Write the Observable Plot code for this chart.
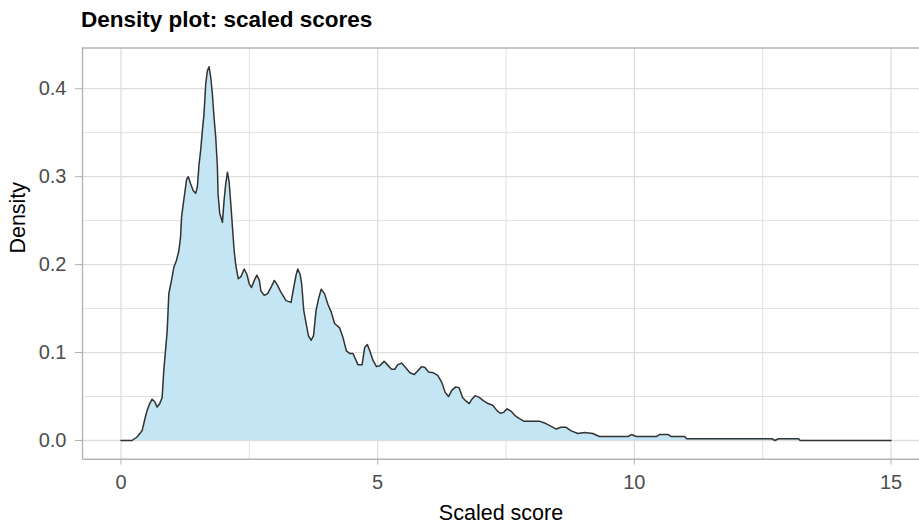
<!DOCTYPE html>
<html>
<head>
<meta charset="utf-8">
<script src="https://cdn.jsdelivr.net/npm/d3@7"></script>
<script src="https://cdn.jsdelivr.net/npm/@observablehq/plot@0.6"></script>
<style>
  html, body { margin: 0; padding: 0; background: white; }
  #wrap { position: relative; width: 919px; height: 524px; overflow: hidden; background: white; }
  #title { position: absolute; left: 81px; top: 9px; font: bold 22.5px "Liberation Sans", Arial, sans-serif; line-height: 22px; color: #000; white-space: nowrap; }
  #chart { position: absolute; left: 0; top: 40px; }
</style>
</head>
<body>
<div id="wrap">
  <div id="title"></div>
  <div id="chart"></div>
</div>
<script>
const titleText = "Density plot: scaled scores";
const xLabel = "Scaled score";
const yLabel = "Density";

// Density curve
const scoreX = [
  0, 0.215, 0.313, 0.410, 0.476, 0.508, 0.560, 0.606, 0.658, 0.704, 0.756, 0.802, 0.834, 0.867, 0.900,
  0.932, 0.984, 1.030, 1.082, 1.128, 1.160, 1.180, 1.213, 1.239, 1.278, 1.310, 1.356, 1.408, 1.454, 1.487,
  1.519, 1.552, 1.585, 1.617, 1.650, 1.682, 1.715, 1.748, 1.780, 1.813, 1.845, 1.878, 1.891, 1.924, 1.976,
  2.008, 2.041, 2.074, 2.106, 2.139, 2.172, 2.204, 2.237, 2.283, 2.335, 2.400, 2.452, 2.498, 2.543, 2.596,
  2.648, 2.694, 2.726, 2.791, 2.856, 2.922, 2.987, 3.052, 3.112, 3.215, 3.313, 3.365, 3.410, 3.444, 3.489,
  3.520, 3.560, 3.607, 3.652, 3.705, 3.750, 3.800, 3.848, 3.900, 3.965, 4.030, 4.096, 4.161, 4.259, 4.325,
  4.390, 4.455, 4.520, 4.618, 4.696, 4.748, 4.800, 4.846, 4.911, 4.977, 5.040, 5.127, 5.192, 5.270, 5.335,
  5.387, 5.466, 5.544, 5.628, 5.714, 5.792, 5.857, 5.922, 5.988, 6.086, 6.170, 6.249, 6.313, 6.380, 6.444,
  6.522, 6.587, 6.654, 6.718, 6.783, 6.836, 6.900, 6.979, 7.065, 7.149, 7.240, 7.325, 7.390, 7.456, 7.520,
  7.605, 7.683, 7.761, 7.847, 8.150, 8.250, 8.380, 8.480, 8.570, 8.670, 8.770, 8.900, 9.030, 9.190, 9.320,
  9.880, 9.940, 10.040, 10.430, 10.490, 10.660, 10.720, 10.980, 11.020, 12.680, 12.740, 12.810, 13.200, 13.230, 15
];
const densityY = [
  0, 0, 0.004, 0.011, 0.027, 0.034, 0.042, 0.047, 0.044, 0.038, 0.042, 0.049, 0.080, 0.102, 0.125,
  0.167, 0.182, 0.197, 0.205, 0.216, 0.231, 0.254, 0.269, 0.280, 0.297, 0.300, 0.292, 0.284, 0.281, 0.288,
  0.313, 0.330, 0.352, 0.371, 0.405, 0.420, 0.425, 0.413, 0.394, 0.367, 0.345, 0.311, 0.280, 0.258, 0.248,
  0.273, 0.292, 0.305, 0.294, 0.269, 0.242, 0.216, 0.199, 0.184, 0.186, 0.195, 0.189, 0.178, 0.174, 0.182,
  0.188, 0.182, 0.170, 0.165, 0.167, 0.174, 0.182, 0.176, 0.169, 0.159, 0.157, 0.174, 0.188, 0.195, 0.189,
  0.178, 0.148, 0.133, 0.119, 0.114, 0.119, 0.148, 0.161, 0.172, 0.167, 0.155, 0.146, 0.133, 0.128, 0.117,
  0.102, 0.099, 0.099, 0.086, 0.086, 0.106, 0.109, 0.102, 0.091, 0.084, 0.085, 0.090, 0.086, 0.081, 0.081,
  0.086, 0.088, 0.083, 0.077, 0.075, 0.080, 0.084, 0.083, 0.078, 0.077, 0.074, 0.066, 0.055, 0.050, 0.057,
  0.061, 0.060, 0.049, 0.045, 0.042, 0.047, 0.051, 0.049, 0.045, 0.042, 0.040, 0.034, 0.031, 0.032, 0.036,
  0.033, 0.028, 0.025, 0.022, 0.022, 0.020, 0.016, 0.013, 0.015, 0.015, 0.011, 0.008, 0.009, 0.008, 0.0045,
  0.0045, 0.0068, 0.0045, 0.0045, 0.0068, 0.0068, 0.0045, 0.0045, 0.002, 0.002, 0, 0.002, 0.002, 0, 0
];

const xTicks = [0, 5, 10, 15];
const xMinorGrid = [2.5, 7.5, 12.5];
const yTicks = [0, 0.1, 0.2, 0.3, 0.4];
const yMinorGrid = [0.05, 0.15, 0.25, 0.35];
const xTickLabels = ["0", "5", "10", "15"];
const yTickLabels = ["0.0", "0.1", "0.2", "0.3", "0.4"];
const xDomain = [-0.75, 15.75];
const yDomain = [-0.02125, 0.44625];

const data = scoreX.map((x, i) => ({x, y: densityY[i]}));

document.getElementById("title").textContent = titleText;

const gridColor = "#dedede";
const borderColor = "#b3b3b3";
const tickTextColor = "#4d4d4d";

const chart = Plot.plot({
  width: 919,
  height: 484,
  marginTop: 7.5,
  marginBottom: 65.3,
  marginLeft: 82,
  marginRight: 0,
  style: {fontFamily: "'Liberation Sans', Arial, sans-serif", fontSize: "20px", background: "white", overflow: "hidden"},
  x: {domain: xDomain, range: [82, 929]},
  y: {domain: yDomain},
  marks: [
    Plot.ruleX(xMinorGrid, {stroke: gridColor, strokeWidth: 0.9}),
    Plot.ruleY(yMinorGrid, {stroke: gridColor, strokeWidth: 0.9}),
    Plot.ruleX(xTicks, {stroke: gridColor, strokeWidth: 1.3}),
    Plot.ruleY(yTicks, {stroke: gridColor, strokeWidth: 1.3}),
    Plot.areaY(data, {x: "x", y: "y", fill: "#c4e5f3", curve: "linear"}),
    Plot.lineY(data, {x: "x", y: "y", stroke: "#333333", strokeWidth: 1.5, curve: "linear"}),
    // panel border (left, top, bottom; right edge lies outside the picture)
    Plot.ruleX([xDomain[0]], {stroke: borderColor, strokeWidth: 1.4}),
    Plot.ruleY(yDomain, {stroke: borderColor, strokeWidth: 1.4}),
    Plot.axisX({ticks: xTicks, tickFormat: (d) => xTickLabels[xTicks.indexOf(d)], tickSize: 6, tickPadding: 10,
      stroke: borderColor, fill: tickTextColor, label: null, fontSize: 20}),
    Plot.axisY({ticks: yTicks, tickFormat: (d) => yTickLabels[yTicks.indexOf(d)], tickSize: 7, tickPadding: 9,
      stroke: borderColor, fill: tickTextColor, label: null, fontSize: 20}),
    Plot.text([xLabel], {frameAnchor: "bottom", dy: 54, text: d => d, fontSize: 21.5, fill: "black", lineAnchor: "middle"}),
    Plot.text([yLabel], {frameAnchor: "left", dx: -64, text: d => d, fontSize: 21.5, fill: "black", rotate: -90, lineAnchor: "middle"})
  ]
});
document.getElementById("chart").appendChild(chart);
</script>
</body>
</html>
